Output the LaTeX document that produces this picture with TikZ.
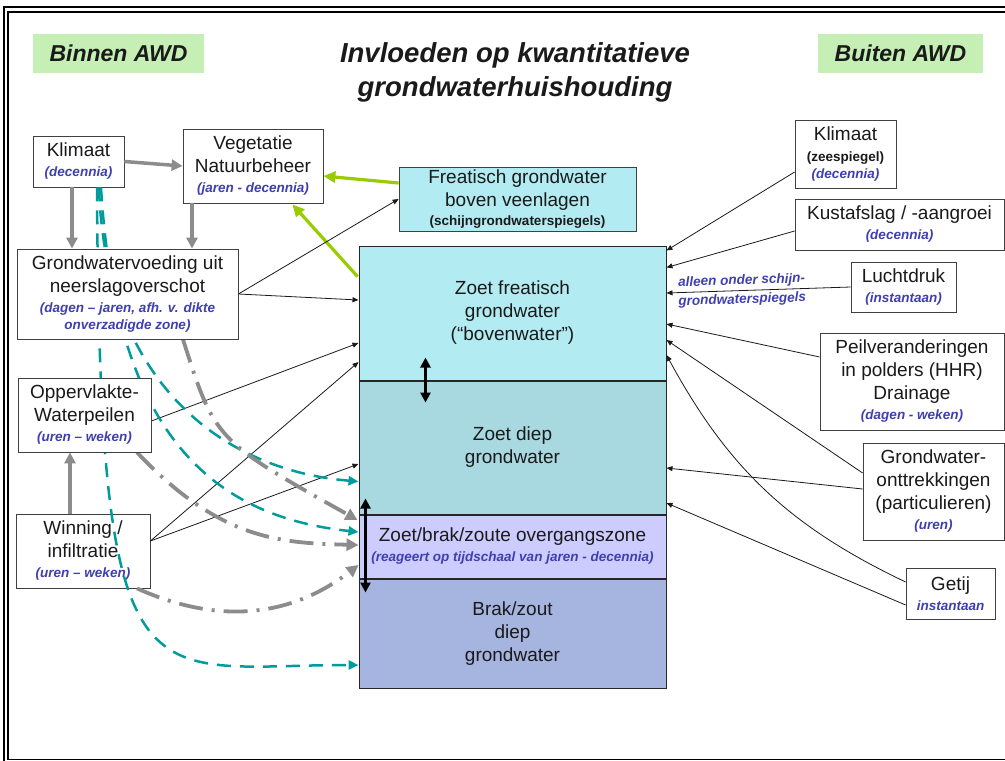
\documentclass[tikz,border=0pt]{standalone}
\usepackage{fontspec}
\setmainfont{Liberation Sans}
\usepackage{xcolor}
\usepackage{tikz}
\usetikzlibrary{arrows.meta,positioning,calc}
\definecolor{ink}{HTML}{1A1A1A}
\definecolor{boxline}{HTML}{404040}
\definecolor{tijdblue}{HTML}{3F3FB0}
\definecolor{tagfill}{HTML}{C6EFB6}
\definecolor{freafill}{HTML}{B2EBF2}
\definecolor{diepfill}{HTML}{A8D8E0}
\definecolor{overfill}{HTML}{CCCCFF}
\definecolor{zoutfill}{HTML}{A6B4E0}
\definecolor{feedgray}{HTML}{8C8C8C}
\definecolor{ecogreen}{HTML}{99CC00}
\definecolor{seepteal}{HTML}{009C9C}
\newcommand{\tijd}[1]{{\fontsize{13.5}{16}\selectfont\bfseries\itshape\color{tijdblue}#1}}
\newcommand{\klein}[1]{{\fontsize{13.5}{16}\selectfont\bfseries #1}}
\pgfdeclarelayer{front}
\pgfsetlayers{main,front}
\tikzset{
  box/.style    ={draw=boxline,line width=0.8pt,fill=white,inner sep=0pt,align=center},
  stratum/.style={draw=black!85,line width=1pt,inner sep=0pt,align=center,minimum width=307},
  header/.style ={fill=tagfill,inner sep=0pt,font=\fontsize{23}{27}\selectfont\bfseries\itshape},
  feed/.style   ={-{Triangle[length=11pt,width=11pt]},line width=3.5pt,draw=feedgray},
  eco/.style    ={-{Triangle[length=12pt,width=11pt]},line width=3.2pt,draw=ecogreen},
  flow/.style   ={-{Triangle[length=6pt,width=5pt]},line width=0.8pt,draw=ink},
  seep/.style   ={-{Triangle[length=10pt,width=9pt]},line width=2.5pt,draw=seepteal,
                  dash pattern=on 14pt off 9pt},
  slow/.style   ={-{Triangle[length=12pt,width=12pt]},line width=3.8pt,draw=feedgray,
                  dash pattern=on 24pt off 9pt on 3pt off 9pt},
  dubbel/.style ={{Triangle[length=10pt,width=10pt]}-{Triangle[length=10pt,width=10pt]},
                  line width=2.6pt,draw=black}
}

\begin{document}
\begin{tikzpicture}[x=1pt,y=-1pt,every node/.style={font=\fontsize{19}{23}\selectfont,text=ink}]
  \useasboundingbox (0,0) rectangle (1005,761);
  % frame
  \draw[line width=1.5pt] (4,761) -- (4,7) -- (1005,7);
  \draw[line width=1.1pt] (1005,12) -- (8,12) -- (8,759.5) -- (1005,759.5);

  % headings
  \node[header,minimum width=171,minimum height=39] (binnen) at (118.5,53.5) {Binnen AWD};
  \node[header,minimum width=165,minimum height=39] (buiten) at (900.5,53.5) {Buiten AWD};
  \node[align=center,font=\fontsize{27.5}{34}\selectfont\bfseries\itshape] (titel) at (515,72)
    {Invloeden op kwantitatieve\\grondwaterhuishouding};

  % grondwater column
  \node[stratum,fill=freafill,minimum height=134] (zf) at (512.5,313)
    {Zoet freatisch\\grondwater\\(“bovenwater”)};
  \node[stratum,fill=diepfill,minimum height=133,below=0pt of zf] (zd) {Zoet diep\\grondwater};
  \node[stratum,fill=overfill,minimum height=63,below=0pt of zd] (og)
    {Zoet/brak/zoute overgangszone\\[-3pt]\tijd{(reageert op tijdschaal van jaren - decennia)}};
  \node[stratum,fill=zoutfill,minimum height=109,below=0pt of og] (bz) {Brak/zout\\diep\\grondwater};
  \node[box,fill=freafill,minimum width=237,minimum height=64] (fr) at (517.5,199)
    {Freatisch grondwater\\boven veenlagen\\[-4pt]\klein{(schijngrondwaterspiegels)}};

  % binnen AWD
  \node[box,minimum width=91,minimum height=51] (kl) at (78.5,161.5) {Klimaat\\[-3pt]\tijd{(decennia)}};
  \node[box,minimum width=140,minimum height=74] (veg) at (253,166)
    {Vegetatie\\Natuurbeheer\\[-3pt]\tijd{(jaren - decennia)}};
  \node[box,minimum width=134,minimum height=74] (win) at (83,551)
    {Winning /\\infiltratie\\[-3pt]\tijd{(uren – weken)}};
  \begin{pgfonlayer}{front}
    \node[box,minimum width=221,minimum height=90] (gwv) at (127.5,294)
      {Grondwatervoeding uit\\neerslagoverschot\\[-3pt]\tijd{(dagen – jaren, afh. v. dikte}\\[-6pt]\tijd{onverzadigde zone)}};
    \node[box,minimum width=133,minimum height=74] (ow) at (84.5,415)
      {Oppervlakte-\\Waterpeilen\\[-3pt]\tijd{(uren – weken)}};
  \end{pgfonlayer}

  % buiten AWD
  \node[box,minimum width=101,minimum height=68] (kr) at (845.5,154)
    {Klimaat\\[-2pt]\klein{(zeespiegel)}\\[-6pt]\tijd{(decennia)}};
  \node[box,minimum width=209,minimum height=51] (kust) at (899.5,224.5)
    {Kustafslag / -aangroei\\[-3pt]\tijd{(decennia)}};
  \node[box,minimum width=105,minimum height=50] (lucht) at (903.5,287) {Luchtdruk\\[-3pt]\tijd{(instantaan)}};
  \node[box,minimum width=184,minimum height=97] (peil) at (912,381.5)
    {Peilveranderingen\\in polders (HHR)\\Drainage\\[-3pt]\tijd{(dagen - weken)}};
  \node[box,minimum width=141,minimum height=97] (gwo) at (933.5,491.5)
    {Grondwater-\\onttrekkingen\\(particulieren)\\[-3pt]\tijd{(uren)}};
  \node[box,minimum width=89,minimum height=51] (getij) at (950.5,593.5) {Getij\\[-3pt]\tijd{instantaan}};

  % gray drivers
  \draw[feed] (kl.east) -- (veg.west);
  \draw[feed] ($(kl.south)+(-6.5,0)$) -- ($(gwv.north)+(-55.5,0)$);
  \draw[feed] ($(veg.south)+(-61,0)$) -- ($(gwv.north)+(64.5,0)$);
  \draw[feed] ($(win.north)+(-13,0)$) -- ($(ow.south)+(-14.5,0)$);
  % green feedback to vegetation
  \draw[eco] ($(fr.west)+(0,-16)$) -- ($(veg.east)+(0,10)$);
  \draw[eco] ($(zf.north west)+(-1,31)$) -- ($(veg.south east)+(-31,1)$);

  % thin influences, left
  \draw[flow] (gwv.east) -- (fr.west);
  \draw[flow] (gwv.east) -- ($(zf.west)+(0,-13)$);
  \draw[flow] ($(ow.east)+(0,6)$) -- ($(zf.west)+(0,30)$);
  \draw[flow] ($(win.east)+(0,-10)$) -- ($(zf.west)+(0,49)$);
  \draw[flow] ($(win.east)+(0,-10)$) -- ($(zd.west)+(0,16.5)$);

  % thin influences, right
  \draw[flow] ($(kr.west)+(0,18)$) -- ($(zf.north east)+(0,5)$);
  \draw[flow] ($(kust.west)+(0,6.5)$) -- ($(zf.north east)+(0,22)$);
  \draw[flow] (lucht.west) -- node[pos=0.59,sloped,align=center,
      font=\fontsize{13.5}{19}\selectfont\bfseries\itshape,text=tijdblue]
      {alleen onder schijn-\\grondwaterspiegels} ($(zf.east)+(0,-20)$);
  \draw[flow] ($(peil.west)+(0,-24.5)$) -- ($(zf.east)+(0,11)$);
  \draw[flow] ($(gwo.west)+(0,-18.5)$) -- ($(zf.east)+(0,27)$);
  \draw[flow] ($(gwo.west)+(0,-2.5)$) -- ($(zd.east)+(0,20.5)$);
  \draw[flow] ($(getij.west)+(0,-11.5)$) to[bend left=18] ($(zf.east)+(0,42)$);
  \draw[flow] ($(getij.west)+(0,11.5)$) -- ($(zd.east)+(0,55.5)$);

  % teal: climate reaching the deeper layers
  \draw[seep] ($(kl.south)+(18.5,0)$) .. controls (100,720) and (140,665) .. ($(bz.west)+(0,31.5)$);
  \draw[seep] ($(kl.south)+(20.5,0)$) .. controls (105,380) and (220,470) .. ($(zd.west)+(0,34)$);
  \draw[seep] ($(kl.south)+(22.5,0)$) .. controls (115,420) and (200,515) .. ($(og.west)+(0,-14.5)$);

  % gray dash-dot to the transition zone
  \draw[slow] ($(gwv.south)+(55.5,0)$) .. controls (215,440) .. ($(og.west)+(-1,-26.5)$);
  \draw[slow] ($(ow.south)+(52.5,0)$) .. controls (220,540) and (280,543) .. ($(og.west)+(0,-1.5)$);
  \draw[slow] ($(win.south)+(54,0)$) .. controls (230,630) and (300,610) .. ($(og.west)+(0,18.5)$);

  % exchange between layers
  \draw[dubbel] ($(zf.south west)+(67,-23)$) -- ($(zd.north west)+(67,22)$);
  \draw[dubbel] ($(og.north west)+(7,-16)$) -- ($(og.south west)+(7,14)$);
\end{tikzpicture}
\end{document}
